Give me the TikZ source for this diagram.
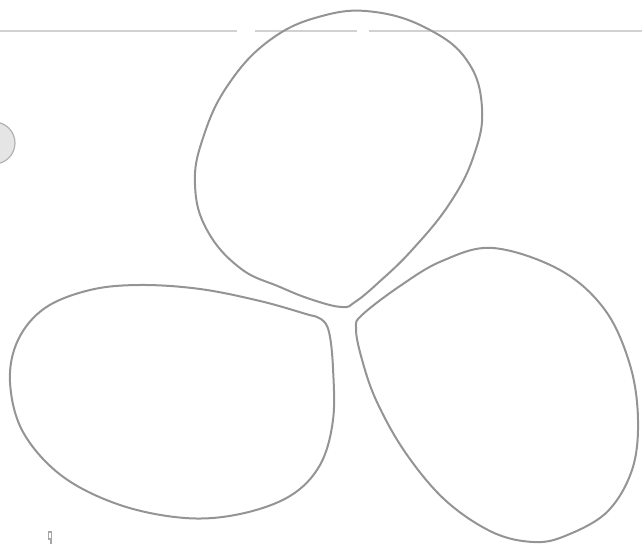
\documentclass[tikz,border=0pt]{standalone}
\usepackage{tikz}
\usetikzlibrary{positioning}

\tikzset{
  lobe/.style={draw=black!42, line width=1pt},
  rule/.style={draw=cyan!10!black!22, line width=0.8pt}
}

\begin{document}
\begin{tikzpicture}[x=0.5pt, y=-0.5pt]
  \useasboundingbox (0,0) rectangle (642,544);

  % Faint ruled line
  \draw[rule] (0,31) -- (237,31);
  \draw[rule] (255,31) -- (357,31);
  \draw[rule] (369,31) -- (642,31);

  % Top lobe
  \draw[lobe] plot[smooth cycle, tension=0.7] coordinates {
    (375,12) (430,30) (468,62) (482,108) (474,155) (450,203) (412,250)
    (378,283) (355,302) (342,307) (313,300) (280,287) (240,268) (207,230)
    (195,185) (203,138) (228,85) (270,40) (322,16)};

  % Bottom left lobe
  \draw[lobe] plot[smooth cycle, tension=0.6] coordinates {
    (140,285) (200,289) (260,301) (306,314) (321,319) (329,332) (333,368)
    (333,420) (320,465) (290,496) (240,514) (185,518) (120,505) (62,476)
    (23,432) (10,382) (18,340) (45,308) (90,290)};

  % Bottom right lobe
  \draw[lobe] plot[smooth cycle, tension=0.6] coordinates {
    (493,248) (560,270) (605,310) (630,365) (638,420) (632,470) (607,512)
    (565,536) (533,542) (492,532) (445,500) (405,452) (376,400) (361,356)
    (356,328) (362,315) (400,286) (442,261)};

  % Partial blob at the left edge
  \begin{scope}
    \clip (0,0) rectangle (642,544);
    \draw[draw=black!30, fill=black!10, line width=0.6pt] (-6,143) circle (21);
  \end{scope}

  % Small mark near the bottom
  \draw[draw=black!35, line width=0.6pt] (48.5,532) rectangle (51.5,539) (51,539) -- (51,544);
\end{tikzpicture}
\end{document}
